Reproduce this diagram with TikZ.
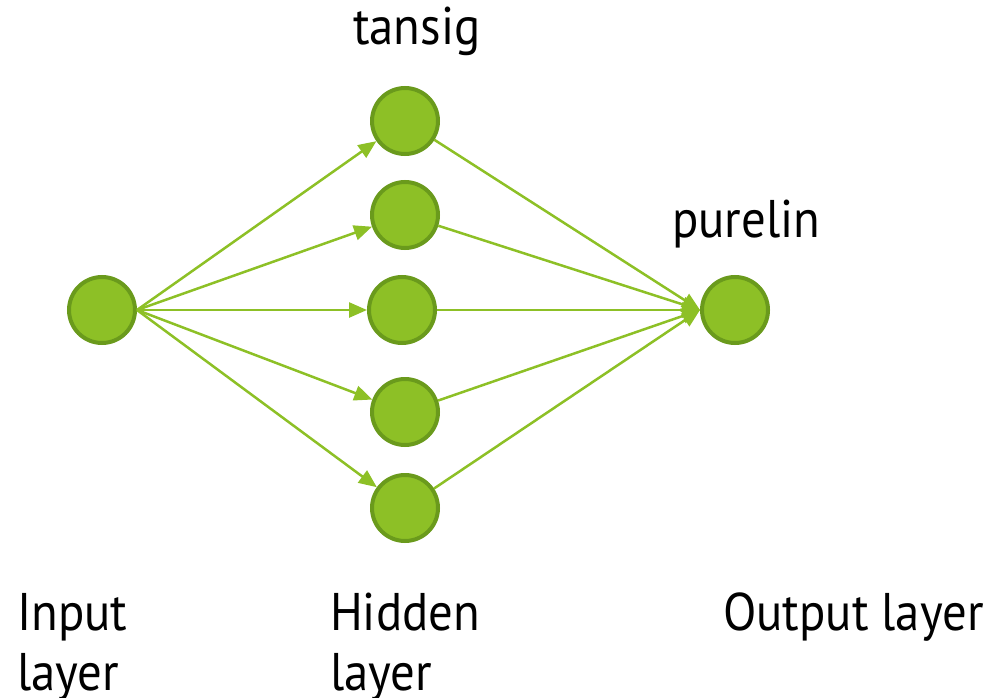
\documentclass[tikz,border=0pt]{standalone}
\usepackage{fontspec}
\setmainfont{PT Sans}[FakeStretch=0.92]
\usetikzlibrary{arrows.meta}
\definecolor{nfill}{HTML}{8DC026}
\definecolor{nborder}{HTML}{6A9A1C}
\definecolor{ncon}{HTML}{8DC026}
\tikzset{
  neuron/.style={circle, fill=nfill, draw=nborder, line width=4pt, minimum size=66pt, inner sep=0pt},
  conn/.style={draw=ncon, line width=2.5pt, -{Triangle[length=18pt,width=15pt]}},
  lbl/.style={anchor=base west, inner sep=0pt, font=\fontsize{53}{60}\selectfont}
}
\begin{document}
\begin{tikzpicture}[x=1pt,y=-1pt]
\useasboundingbox (0,0) rectangle (998,698);
\node[neuron] (in) at (102,310) {};
\node[neuron] (h1) at (405,121) {};
\node[neuron] (h2) at (405,215) {};
\node[neuron] (h3) at (402,310) {};
\node[neuron] (h4) at (405,412) {};
\node[neuron] (h5) at (405,508) {};
\node[neuron] (out) at (735,310) {};
\foreach \h in {h1,h2,h3,h4,h5}{
  \draw[conn] (in.east) -- (\h);
  \draw[conn] (\h) -- (out.west);
}
\node[lbl] (t1) at (353,45) {tansig};
\node[lbl] (t2) at (672,237) {purelin};
\node[lbl] (t3) at (17,630) {Input};
\node[lbl] (t4) at (17,690) {layer};
\node[lbl] (t5) at (330,630) {Hidden};
\node[lbl] (t6) at (330,690) {layer};
\node[lbl] (t7) at (723,630) {Output layer};
\end{tikzpicture}
\end{document}
